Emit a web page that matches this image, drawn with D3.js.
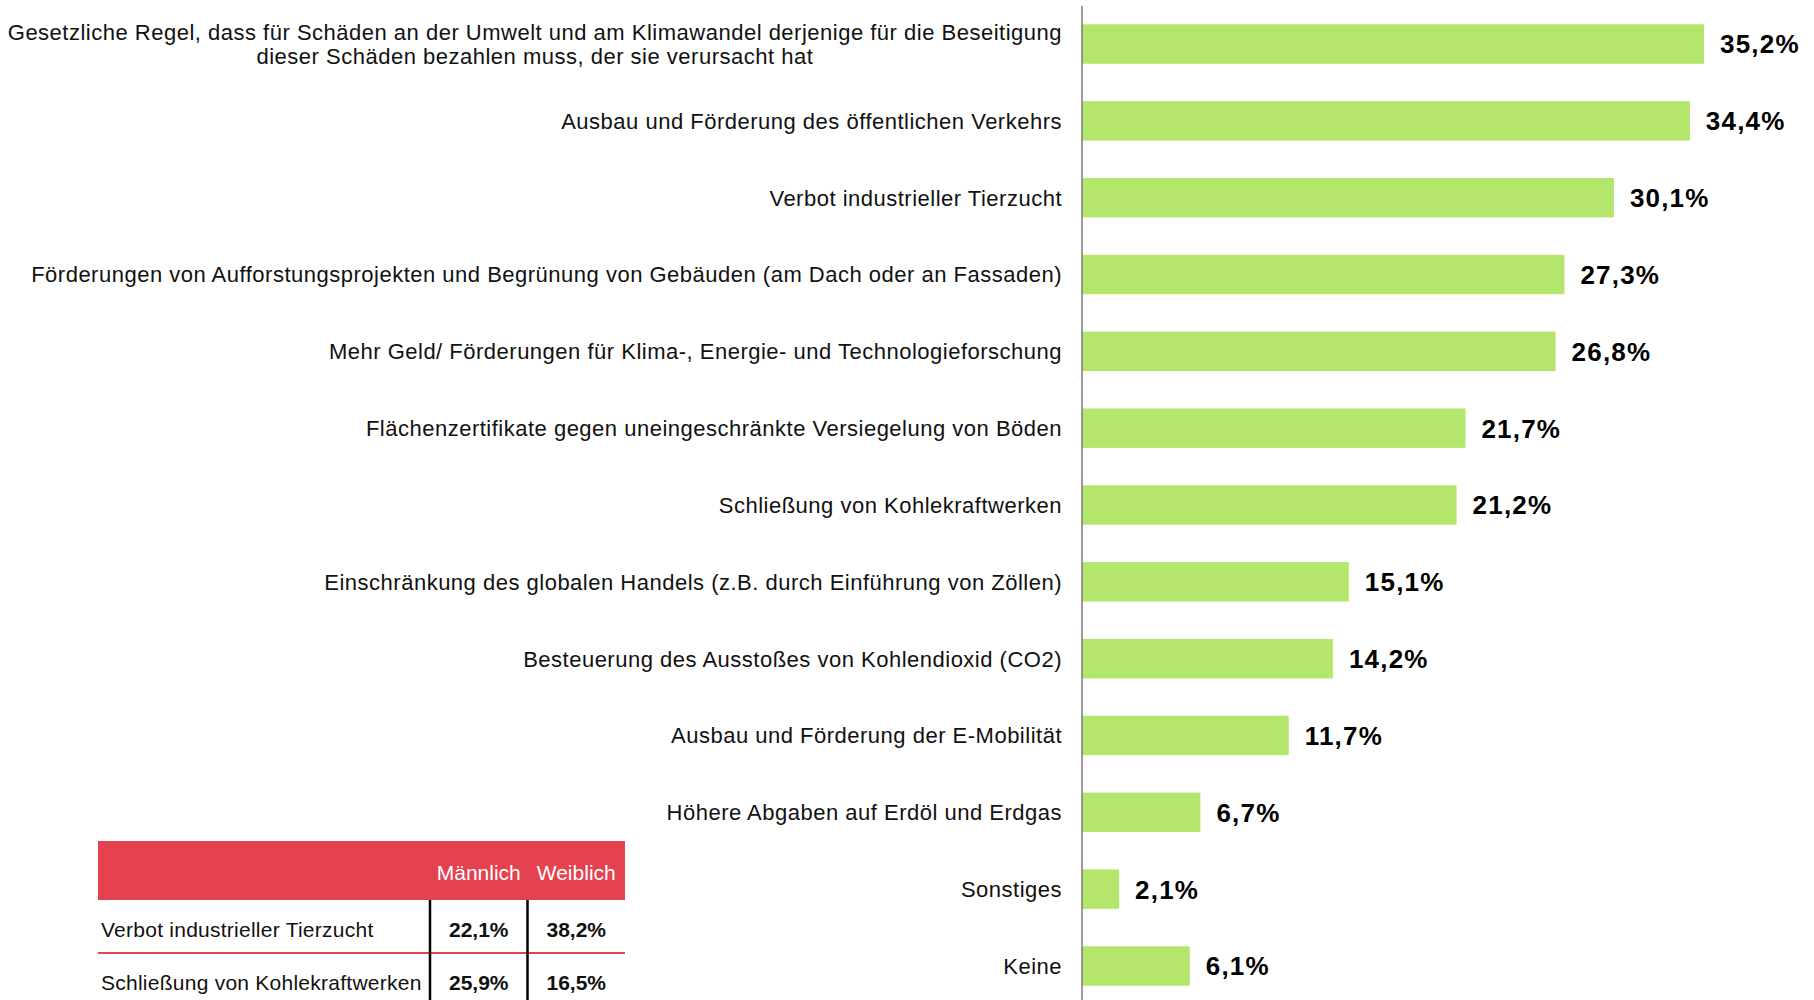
<!DOCTYPE html>
<html>
<head>
<meta charset="utf-8">
<script src="https://cdn.jsdelivr.net/npm/d3@7"></script>
<style>
  body { margin: 0; background: #fff; }
  svg { display: block; font-family: "Liberation Sans", Arial, sans-serif; }
</style>
</head>
<body>
<div id="chart"></div>
<script>
// measures and their share
const categories = [
  "Gesetzliche Regel, dass für Schäden an der Umwelt und am Klimawandel derjenige für die Beseitigung\ndieser Schäden bezahlen muss, der sie verursacht hat",
  "Ausbau und Förderung des öffentlichen Verkehrs",
  "Verbot industrieller Tierzucht",
  "Förderungen von Aufforstungsprojekten und Begrünung von Gebäuden (am Dach oder an Fassaden)",
  "Mehr Geld/ Förderungen für Klima-, Energie- und Technologieforschung",
  "Flächenzertifikate gegen uneingeschränkte Versiegelung von Böden",
  "Schließung von Kohlekraftwerken",
  "Einschränkung des globalen Handels (z.B. durch Einführung von Zöllen)",
  "Besteuerung des Ausstoßes von Kohlendioxid (CO2)",
  "Ausbau und Förderung der E-Mobilität",
  "Höhere Abgaben auf Erdöl und Erdgas",
  "Sonstiges",
  "Keine"
];
const values = [35.2, 34.4, 30.1, 27.3, 26.8, 21.7, 21.2, 15.1, 14.2, 11.7, 6.7, 2.1, 6.1];

// gender table
const tableCols = ["Männlich", "Weiblich"];
const tableRows = ["Verbot industrieller Tierzucht", "Schließung von Kohlekraftwerken"];
const maleValues = [22.1, 25.9];
const femaleValues = [38.2, 16.5];

const width = 1814, height = 1000;
const axisX = 1082;
const fmt = v => d3.format(".1f")(v).replace(".", ",") + "%";

const svg = d3.select("#chart").append("svg")
  .attr("width", width)
  .attr("height", height);

const x = d3.scaleLinear()
  .domain([0, d3.max(values)])
  .range([axisX, 1704]);

const y = d3.scaleBand()
  .domain(categories)
  .range([5.6, 1004.4])
  .paddingInner(0.487)
  .paddingOuter(0.2435);

// bars
svg.append("g")
  .selectAll("rect")
  .data(values)
  .join("rect")
  .attr("x", x(0))
  .attr("y", (d, i) => y(categories[i]))
  .attr("width", d => x(d) - x(0))
  .attr("height", y.bandwidth())
  .attr("fill", "#b3e66b");

// value labels
svg.append("g")
  .selectAll("text")
  .data(values)
  .join("text")
  .attr("x", d => x(d) + 16)
  .attr("y", (d, i) => y(categories[i]) + y.bandwidth() / 2)
  .attr("dy", "0.36em")
  .attr("font-size", 26)
  .attr("font-weight", "bold")
  .attr("letter-spacing", 1.2)
  .attr("fill", "#000")
  .text(fmt);

// category labels
const labels = svg.append("g")
  .attr("font-size", 22)
  .attr("letter-spacing", 0.5)
  .attr("fill", "#111");

categories.forEach(c => {
  const lines = c.split("\n");
  const cy = y(c) + y.bandwidth() / 2;
  const t = labels.append("text");
  if (lines.length === 1) {
    t.attr("x", axisX - 20).attr("y", cy).attr("dy", "0.36em")
      .attr("text-anchor", "end").text(c);
  } else {
    const lh = 24.5;
    t.attr("text-anchor", "middle");
    lines.forEach((l, j) => {
      t.append("tspan")
        .attr("y", cy + (j - (lines.length - 1) / 2) * lh)
        .attr("dy", "0.36em")
        .text(l);
    });
    const w = d3.max(t.selectAll("tspan").nodes(), n => n.getComputedTextLength());
    t.selectAll("tspan").attr("x", axisX - 20 - w / 2);
  }
});

// axis line
svg.append("line")
  .attr("x1", axisX).attr("x2", axisX)
  .attr("y1", 6).attr("y2", height)
  .attr("stroke", "#7a7a7a")
  .attr("stroke-width", 1.5);

// table
const red = "#e4424f";
const tbl = svg.append("g").attr("font-size", 21);
const tx0 = 98, tx1 = 625, colX = [430, 527.5];
const headTop = 841, headBot = 900, rowH = 53;

tbl.append("rect")
  .attr("x", tx0).attr("y", headTop)
  .attr("width", tx1 - tx0).attr("height", headBot - headTop)
  .attr("fill", red);

const colCenter = [(colX[0] + colX[1]) / 2, (colX[1] + tx1) / 2];

tbl.selectAll(".hd")
  .data(tableCols)
  .join("text")
  .attr("x", (d, i) => colCenter[i])
  .attr("y", headTop + 31)
  .attr("dy", "0.36em")
  .attr("text-anchor", "middle")
  .attr("fill", "#fff")
  .text(d => d);

tableRows.forEach((r, i) => {
  const cy = headBot + rowH * i + rowH / 2 + 2.5;
  tbl.append("text")
    .attr("x", tx0 + 3).attr("y", cy).attr("dy", "0.36em")
    .attr("letter-spacing", 0.25)
    .attr("fill", "#111")
    .text(r);
  [maleValues[i], femaleValues[i]].forEach((v, j) => {
    tbl.append("text")
      .attr("x", colCenter[j]).attr("y", cy).attr("dy", "0.36em")
      .attr("text-anchor", "middle")
      .attr("font-weight", "bold")
      .attr("fill", "#111")
      .text(fmt(v));
  });
  tbl.append("line")
    .attr("x1", tx0).attr("x2", tx1)
    .attr("y1", headBot + rowH * (i + 1)).attr("y2", headBot + rowH * (i + 1))
    .attr("stroke", red)
    .attr("stroke-width", 2);
});

colX.forEach(cx => {
  tbl.append("line")
    .attr("x1", cx).attr("x2", cx)
    .attr("y1", headBot).attr("y2", height)
    .attr("stroke", "#000")
    .attr("stroke-width", 2.5);
});
</script>
</body>
</html>
